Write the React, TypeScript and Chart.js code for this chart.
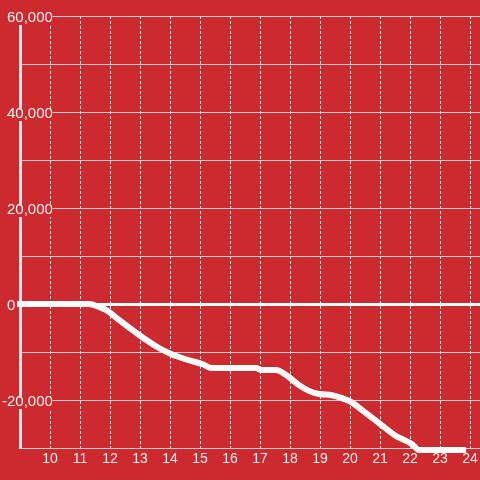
import React, { useEffect, useRef } from 'react';
import { Chart, registerables } from 'chart.js';

Chart.register(...registerables);

const BG = 'rgb(204, 42, 46)';
const FONT = "'Liberation Sans', Arial, Helvetica, sans-serif";

// Hour of day (x) and cumulative value (y)
const hours = [8, 11.3, 11.63, 11.87, 12.3, 12.97, 13.63, 14.03, 14.3, 14.73, 15.07, 15.4, 16.87, 17.03, 17.53, 17.87, 18.3, 18.63, 18.97, 19.4, 19.73, 20.03, 20.4, 20.97, 21.53, 21.8, 22.07, 22.3, 23.87];
const values = [0, 0, -600, -1250, -3330, -6460, -9170, -10400, -11040, -11900, -12500, -13330, -13330, -13750, -13750, -14800, -16900, -18100, -18750, -19000, -19600, -20400, -22100, -24800, -27500, -28300, -29200, -30400, -30400];

const xTickValues = [10, 11, 12, 13, 14, 15, 16, 17, 18, 19, 20, 21, 22, 23, 24];
const xMin = 9;
const xMax = 24 + 1 / 3;
const yMin = -30000;
const yMax = 60000;
const yGridStep = 10000;
const yLabelStep = 20000;

export default function App() {
  const ref = useRef<HTMLCanvasElement | null>(null);

  useEffect(() => {
    if (!ref.current) return;
    const chart = new Chart(ref.current, {
      type: 'line',
      data: {
        datasets: [
          {
            data: hours.map((h, i) => ({ x: h, y: values[i] })),
            borderColor: '#ffffff',
            borderWidth: 6,
            pointRadius: 0,
            fill: false,
            cubicInterpolationMode: 'monotone',
            borderJoinStyle: 'round',
            clip: { left: 3, top: 3, right: 3, bottom: 6 } as any,
          },
        ],
      },
      options: {
        animation: false,
        responsive: false,
        layout: { padding: { top: 16, left: 0, right: 0, bottom: 0 } },
        plugins: { legend: { display: false }, tooltip: { enabled: false } },
        scales: {
          x: {
            type: 'linear',
            min: xMin,
            max: xMax,
            afterBuildTicks: (s: any) => {
              s.ticks = xTickValues.map((v) => ({ value: v }));
            },
            afterFit: (s: any) => {
              s.height = 32;
              s.paddingLeft = 0;
              s.paddingRight = 0;
            },
            grid: { color: '#dddddd', lineWidth: 1, drawTicks: false },
            border: { display: false, dash: [3, 2] },
            ticks: {
              color: '#f0f0f0',
              font: { family: FONT, size: 14 },
              padding: 3,
              maxRotation: 0,
              autoSkip: false,
              callback: (v: any) => String(v),
            },
          },
          y: {
            type: 'linear',
            min: yMin,
            max: yMax,
            afterFit: (s: any) => {
              s.width = 20;
            },
            grid: {
              color: (ctx: any) => (ctx.tick && ctx.tick.value === 0 ? '#ffffff' : '#cccccc'),
              lineWidth: (ctx: any) => (ctx.tick && ctx.tick.value === 0 ? 3 : 1),
              drawTicks: true,
              tickLength: 3,
              tickWidth: 3,
              tickColor: (ctx: any) => (ctx.tick && ctx.tick.value === 0 ? '#ffffff' : 'rgba(0,0,0,0)'),
            },
            border: { display: true, color: '#eeeeee', width: 3 },
            ticks: {
              stepSize: yGridStep,
              autoSkip: false,
              mirror: true,
              crossAlign: 'far',
              color: '#f0f0f0',
              font: { family: FONT, size: 15 },
              padding: -18,
              labelOffset: 2,
              showLabelBackdrop: (ctx: any) => {
                const v = ctx.tick ? ctx.tick.value : null;
                return v !== null && v !== 0 && v % yLabelStep === 0;
              },
              backdropColor: BG,
              backdropPadding: { top: -5, bottom: -2, left: 2, right: 0 },
              callback: (v: any) => {
                const n = Number(v);
                if (n % yLabelStep !== 0) return '';
                if (n === 0) return '0         ';
                return n.toLocaleString('en-US');
              },
            },
          },
        },
      } as any,
    });
    return () => chart.destroy();
  }, []);

  return (
    <div style={{ position: 'fixed', left: 0, top: 0, width: 480, height: 480, background: BG }}>
      <canvas ref={ref} width={480} height={480} style={{ display: 'block' }} />
    </div>
  );
}
